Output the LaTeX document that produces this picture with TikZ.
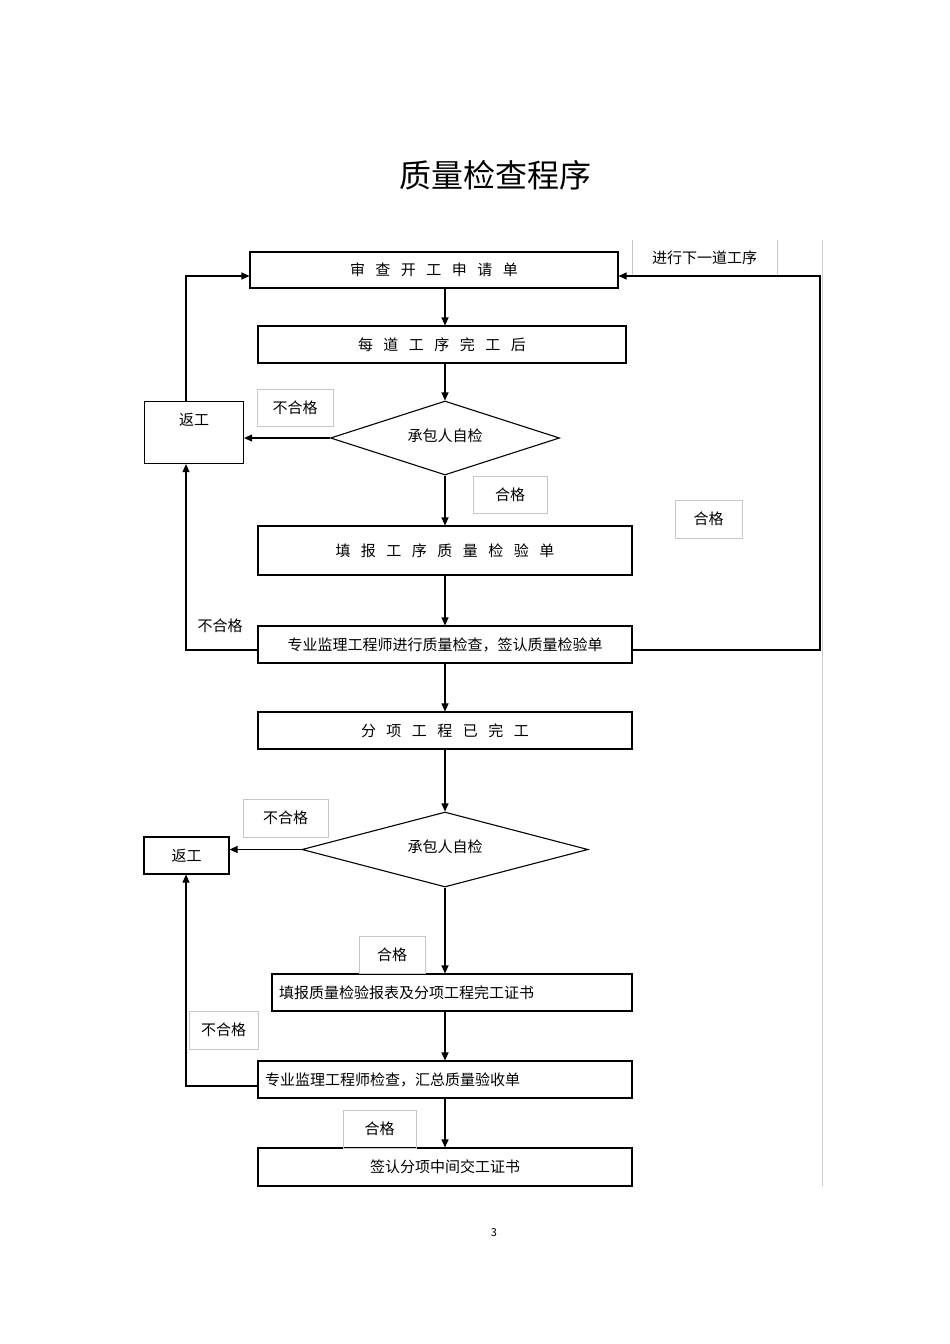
\documentclass[tikz,border=0pt]{standalone}
\usepackage{fontspec}
\setmainfont{Noto Sans CJK SC}
\usetikzlibrary{shapes.geometric,arrows.meta}
\begin{document}
\begin{tikzpicture}[x=1pt,y=-1pt,
  box/.style={draw,line width=1.1pt,minimum height=#1,inner sep=0pt,font=\fontsize{15}{18}\selectfont},
  lab/.style={draw=gray!45,line width=0.5pt,inner sep=0pt,font=\fontsize{15}{18}\selectfont},
  arr/.style={line width=1.1pt,-{Triangle[length=8pt,width=7pt]}},
  ln/.style={line width=1.1pt}]
\useasboundingbox (0,0) rectangle (950,1344);
\node (title) at (495,175) {\fontsize{32}{36}\selectfont 质量检查程序};
\draw[gray!40,line width=0.5pt] (822,240) -- (822,1186);
% boxes
\node[box=36pt,minimum width=368pt] (b1) at (434,270) {审\hspace{0.7em}查\hspace{0.7em}开\hspace{0.7em}工\hspace{0.7em}申\hspace{0.7em}请\hspace{0.7em}单};
\node[box=37pt,minimum width=368pt] (b2) at (442,344.5) {每\hspace{0.7em}道\hspace{0.7em}工\hspace{0.7em}序\hspace{0.7em}完\hspace{0.7em}工\hspace{0.7em}后};
\node[draw,line width=1.1pt,diamond,aspect=3.1,minimum width=229pt,minimum height=74pt,inner sep=0pt,font=\fontsize{15}{18}\selectfont] (d1) at (445,438) {};
\node[font=\fontsize{15}{18}\selectfont] at (445,436) {承包人自检};
\node[box=62pt,minimum width=99pt,anchor=north west] (r1) at (144,401) {};
\node[font=\fontsize{15}{18}\selectfont] at (194,420) {返工};
\node[box=49pt,minimum width=374pt] (b3) at (445,550.5) {填\hspace{0.7em}报\hspace{0.7em}工\hspace{0.7em}序\hspace{0.7em}质\hspace{0.7em}量\hspace{0.7em}检\hspace{0.7em}验\hspace{0.7em}单};
\node[box=37pt,minimum width=374pt] (b4) at (445,644.5) {专业监理工程师进行质量检查，签认质量检验单};
\node[box=37pt,minimum width=374pt] (b5) at (445,730.5) {分\hspace{0.7em}项\hspace{0.7em}工\hspace{0.7em}程\hspace{0.7em}已\hspace{0.7em}完\hspace{0.7em}工};
\node[draw,line width=1.1pt,diamond,aspect=3.8,minimum width=286pt,minimum height=75pt,inner sep=0pt] (d2) at (445,849.5) {};
\node[font=\fontsize{15}{18}\selectfont] at (445,847) {承包人自检};
\node[box=37pt,minimum width=85pt] (r2) at (186.5,855.5) {返工};
\node[box=37pt,minimum width=360pt,text width=346pt,align=left] (b6) at (452,992.5) {填报质量检验报表及分项工程完工证书};
\node[box=37pt,minimum width=374pt,text width=360pt,align=left] (b7) at (445,1079.5) {专业监理工程师检查，汇总质量验收单};
\node[box=38pt,minimum width=374pt] (b8) at (445,1167) {签认分项中间交工证书};
% labels
\node[lab,minimum width=76pt,minimum height=37pt] (l1) at (295,407.5) {不合格};
\node[lab,minimum width=74pt,minimum height=37pt] (l2) at (510,494.5) {合格};
\node[lab,minimum width=67pt,minimum height=38pt] (l3) at (708.5,519) {合格};
\node[font=\fontsize{15}{18}\selectfont] (l4) at (220,626) {不合格};
\node[draw=none,minimum width=145pt,minimum height=36pt,inner sep=0pt,font=\fontsize{15}{18}\selectfont] (l5) at (704.5,258) {进行下一道工序};
\draw[gray!45,line width=0.5pt] (l5.north west) -- (l5.south west) (l5.north east) -- (l5.south east);
\node[lab,minimum width=85pt,minimum height=38pt] (l6) at (285.5,818) {不合格};
\node[lab,minimum width=66pt,minimum height=37pt] (l7) at (392,955) {合格};
\node[lab,minimum width=69pt,minimum height=38pt] (l8) at (223.5,1030) {不合格};
\node[lab,minimum width=73pt,minimum height=38pt] (l9) at (379.5,1129) {合格};
\node[font=\fontsize{11}{13}\selectfont] (pg) at (494,1233) {3};
% connectors
\coordinate (c1) at (186,276);
\coordinate (c2) at (820,276);
\coordinate (c3) at (820,650);
\coordinate (c4) at (186,650);
\coordinate (c5) at (186,1086);
\draw[arr] (b1.south -| 445,0) -- (b2.north -| 445,0);
\draw[arr] (b2.south -| 445,0) -- (d1.north);
\draw[arr] (d1.west) -- (r1.east |- d1.west);
\draw[arr] (d1.south) -- (b3.north);
\draw[arr] (b3.south) -- (b4.north);
\draw[arr] (r1.north -| c1) -- (c1) -- (b1.west |- c1);
\draw[arr] (b4.west |- c4) -- (c4) -- (r1.south -| c4);
\draw[arr] (b4.east |- c3) -- (c3) -- (c2) -- (b1.east |- c2);
\draw[arr] (b4.south) -- (b5.north);
\draw[arr] (b5.south) -- (d2.north);
\draw[arr] (d2.west) -- (r2.east |- d2.west);
\draw[arr] (d2.south) -- (b6.north -| d2.south);
\draw[arr] (b6.south -| 445,0) -- (b7.north);
\draw[arr] (b7.south) -- (b8.north);
\draw[arr] (b7.west |- c5) -- (c5) -- (r2.south -| c5);
\end{tikzpicture}
\end{document}
